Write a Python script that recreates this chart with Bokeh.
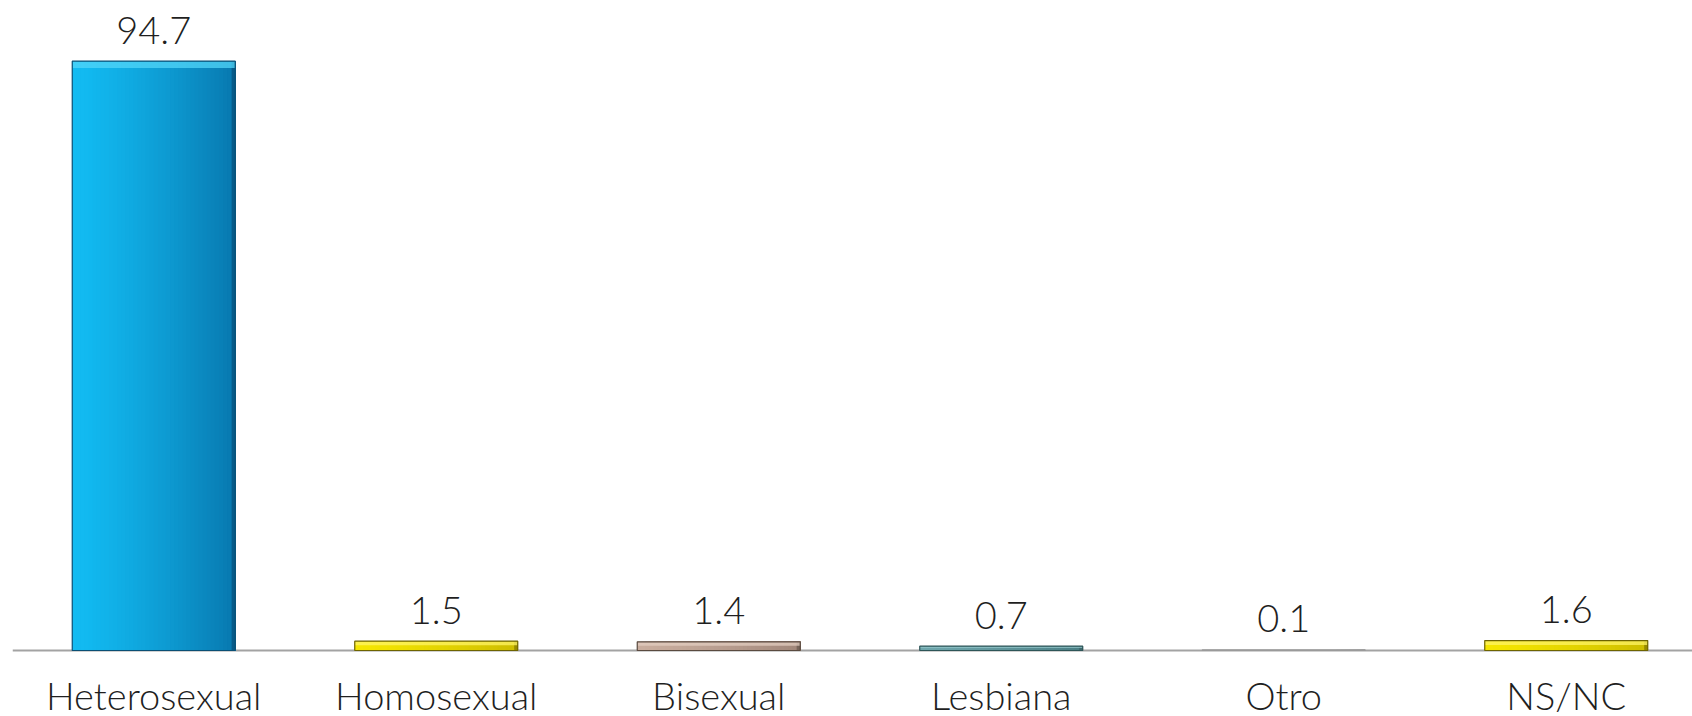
import numpy as np
from bokeh.plotting import figure
from bokeh.models import ColumnDataSource, Range1d, Span
from bokeh.transform import dodge
from bokeh.core.properties import value
from bokeh.embed import file_html
from bokeh.resources import INLINE

# ---- data ----
categories = ["Heterosexual", "Homosexual", "Bisexual", "Lesbiana", "Otro", "NS/NC"]
percentages = [94.7, 1.5, 1.4, 0.7, 0.1, 1.6]

# ---- styles (per bar) ----
left_colors = ["#12BBF2", "#F5E600", "#C9AD9E", "#6EA6AC", "#BDBDBD", "#F5E600"]
right_colors = ["#0879B0", "#CDBD00", "#A1877A", "#4A7E84", "#A0A0A0", "#CDBD00"]
border_colors = ["#0A4F74", "#6E6400", "#5A4A40", "#2E5558", "#9A9A9A", "#6E6400"]
bevel_colors = ["#52D6F8", "#FFF466", "#E3CDC0", "#93C5C9", "#C8C8C8", "#FFF466"]
edge_colors = ["#07547F", "#8A7E00", "#6E5C52", "#3A6468", "#999999", "#8A7E00"]

W = 0.577
N = 40
FONT = "Lato Light"
FSIZE = "38px"

def hex2rgb(h):
    h = h.lstrip("#")
    return np.array([int(h[i:i + 2], 16) for i in (0, 2, 4)], dtype=float)

def rgb2hex(c):
    return "#%02x%02x%02x" % tuple(int(round(v)) for v in c)

xs = np.arange(len(categories)) + 0.5
tops = np.array(percentages, dtype=float)
bevel_bottom = tops - np.minimum(1.1, tops * 0.45)

data = dict(x=xs, top=tops, bev=bevel_bottom,
            label=[f"{v:.1f}" for v in percentages], cat=categories,
            border=border_colors, bevc=bevel_colors, edge=edge_colors)
for i in range(N):
    t = (i / (N - 1)) ** 1.3
    data[f"c{i}"] = [rgb2hex(hex2rgb(a) * (1 - t) + hex2rgb(b) * t)
                     for a, b in zip(left_colors, right_colors)]
src = ColumnDataSource(data)

px_per_unit = 6.223
axis_px = 650
fig_h = 716
y_top = axis_px / px_per_unit
y_bot = -(fig_h - axis_px) / px_per_unit

p = figure(width=1692, height=fig_h, output_backend="svg", toolbar_location=None,
           x_range=Range1d(0, 1680 / 282.5), y_range=Range1d(y_bot, y_top),
           x_axis_type=None, y_axis_type=None,
           min_border_left=12, min_border_right=0, min_border_top=0, min_border_bottom=0)
p.outline_line_color = None
p.grid.visible = False
p.background_fill_color = "white"

p.add_layout(Span(location=0, dimension="width", line_color="#A3A3A3",
                  line_width=2, level="underlay"))

# horizontal gradient: overlapping slices, each running to the bar's right edge
for i in range(N):
    left = -W / 2 + i * W / N
    wi = W / 2 - left
    p.vbar(x=dodge("x", left + wi / 2, range=p.x_range), top="top", bottom=0,
           width=wi, source=src, fill_color=f"c{i}", line_color=None)

# right dark edge
ew = W * 0.022
p.vbar(x=dodge("x", W / 2 - ew / 2, range=p.x_range), top="top", bottom=0,
       width=ew, source=src, fill_color="edge", fill_alpha=0.8, line_color=None)
# top bevel
p.vbar(x="x", top="top", bottom="bev", width=W, source=src,
       fill_color="bevc", fill_alpha=0.75, line_color=None)
# outline
p.vbar(x="x", top="top", bottom=0, width=W, source=src,
       fill_color=None, line_color="border", line_width=1.2)

p.text(x="x", y="top", text="label", source=src, text_font=value(FONT),
       text_font_size=FSIZE, text_align="center", text_baseline="alphabetic",
       y_offset=-31, text_color="#1f1f1f")
p.text(x="x", y=0, text="cat", source=src, text_font=value(FONT),
       text_font_size=FSIZE, text_align="center", text_baseline="alphabetic",
       y_offset=44, text_color="#1f1f1f")

open("out.html", "w").write(file_html(p, INLINE))
